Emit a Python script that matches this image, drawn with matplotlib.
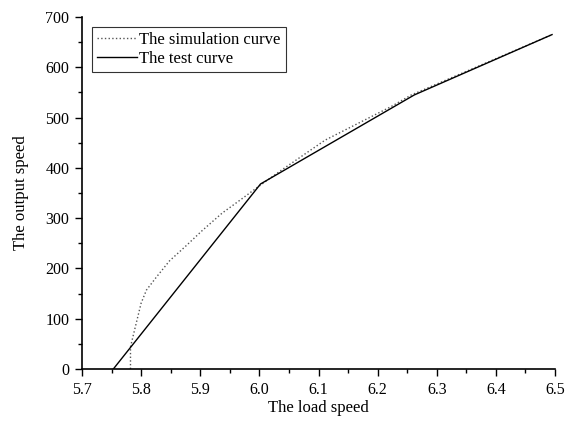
import numpy as np
import matplotlib.pyplot as plt
from matplotlib.ticker import MultipleLocator

# simulation curve (dotted)
sim_x = [5.782, 5.782, 5.789, 5.800, 5.809, 5.826, 5.848, 5.876, 5.904, 5.937,
         5.971, 5.994, 6.038, 6.111, 6.223, 6.257, 6.495]
sim_y = [0, 44, 78, 131, 157, 183, 215, 245, 276, 310,
         339, 359, 396, 455, 522, 545, 665]

# test curve (solid)
test_x = [5.753, 6.002, 6.262, 6.495]
test_y = [0, 368, 545, 665]

plt.rcParams['font.family'] = ['Liberation Serif', 'DejaVu Serif']
fig = plt.figure(figsize=(5.65, 4.21), dpi=100)
ax = fig.add_axes([82 / 565, 52 / 421, 473 / 565, 352 / 421])

ax.plot(sim_x, sim_y, color='#555555', linestyle=':', linewidth=1.0, label='The simulation curve')
ax.plot(test_x, test_y, color='black', linestyle='-', linewidth=1.0, label='The test curve')

ax.set_xlim(5.7, 6.5)
ax.set_ylim(0, 700)
ax.xaxis.set_major_locator(MultipleLocator(0.1))
ax.xaxis.set_minor_locator(MultipleLocator(0.05))
ax.yaxis.set_major_locator(MultipleLocator(100))
ax.yaxis.set_minor_locator(MultipleLocator(50))
ax.xaxis.set_major_formatter(plt.FormatStrFormatter('%.1f'))

ax.spines['top'].set_visible(False)
ax.spines['right'].set_visible(False)
ax.spines['left'].set_linewidth(1.2)
ax.spines['bottom'].set_linewidth(1.2)
ax.tick_params(which='major', direction='out', length=5, width=1.0, labelsize=11.5, pad=4)
ax.tick_params(which='minor', direction='out', length=3, width=1.0)

ax.set_xlabel('The load speed', fontsize=12, labelpad=2)
ax.set_ylabel('The output speed', fontsize=12, labelpad=12)

leg = ax.legend(loc='upper left', bbox_to_anchor=(0.021, 0.972), fontsize=12,
                frameon=True, fancybox=False, handlelength=2.4, handletextpad=0.15,
                borderpad=0.3, labelspacing=0.2, borderaxespad=0)
leg.get_frame().set_edgecolor('black')
leg.get_frame().set_linewidth(0.8)

plt.savefig('out.png', dpi=100)
